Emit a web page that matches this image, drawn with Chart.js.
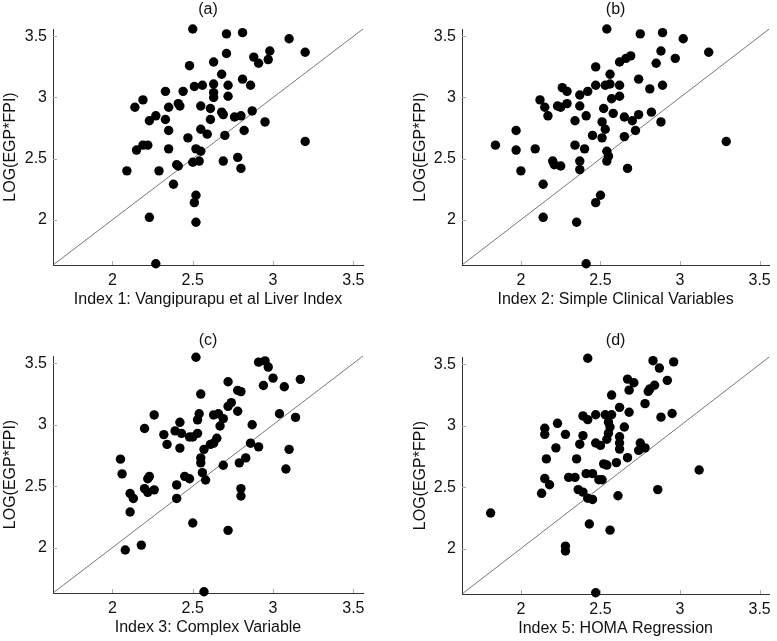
<!DOCTYPE html>
<html>
<head>
<meta charset="utf-8">
<script src="https://cdn.jsdelivr.net/npm/chart.js@4/dist/chart.umd.min.js"></script>
<style>
  html, body { margin: 0; padding: 0; background: #fff; }
  body { width: 777px; height: 641px; position: relative; overflow: hidden; }
  .pane { position: absolute; }
</style>
</head>
<body>
<div class="pane" id="pa" style="left:0px;top:0px;width:390px;height:320px;"><canvas id="ca"></canvas></div>
<div class="pane" id="pb" style="left:390px;top:0px;width:387px;height:320px;"><canvas id="cb"></canvas></div>
<div class="pane" id="pc" style="left:0px;top:320px;width:390px;height:321px;"><canvas id="cc"></canvas></div>
<div class="pane" id="pd" style="left:390px;top:320px;width:387px;height:321px;"><canvas id="cd"></canvas></div>
<script>
// ---- data ----
const axisMin = 1.63;
const axisMax = 3.56;
const tickValues = [2, 2.5, 3, 3.5];
const yTitle = "LOG(EGP*FPI)";
const panelTitles = ["(a)", "(b)", "(c)", "(d)"];
const xTitles = [
  "Index 1: Vangipurapu et al Liver Index",
  "Index 2: Simple Clinical Variables",
  "Index 3: Complex Variable",
  "Index 5: HOMA Regression"
];

const aX = [2.50,2.71,2.81,3.10,2.98,3.20,2.71,2.88,2.91,2.97,2.63,2.48,2.68,2.81,2.86,2.51,2.56,2.63,2.72,2.63,2.63,2.72,2.33,2.44,2.19,2.14,2.35,2.41,2.42,2.55,2.61,2.68,2.69,2.76,2.80,2.87,2.27,2.23,2.33,2.61,2.95,2.35,2.55,2.59,2.82,2.47,2.70,3.20,2.19,2.22,2.15,2.35,2.52,2.55,2.50,2.54,2.40,2.41,2.69,2.78,2.80,2.09,2.29,2.38,2.52,2.51,2.23,2.52,2.27];
const aY = [3.56,3.52,3.53,3.48,3.38,3.37,3.36,3.33,3.28,3.31,3.29,3.26,3.19,3.15,3.10,3.09,3.10,3.11,3.10,3.04,3.00,3.01,3.05,3.05,2.98,2.92,2.92,2.95,2.93,2.93,2.91,2.88,2.86,2.84,2.85,2.89,2.85,2.81,2.82,2.82,2.80,2.73,2.74,2.70,2.73,2.67,2.69,2.64,2.61,2.61,2.57,2.58,2.58,2.56,2.47,2.48,2.45,2.44,2.48,2.51,2.42,2.40,2.40,2.29,2.20,2.14,2.02,1.98,1.64];

const bX = [2.54,2.75,2.89,3.02,2.88,3.18,2.97,2.85,2.69,2.66,2.62,2.47,2.56,2.74,2.53,2.56,2.62,2.47,2.89,2.81,2.26,2.29,2.42,2.37,2.62,2.57,2.12,2.15,2.23,2.25,2.29,2.37,2.52,2.17,2.41,2.58,2.65,2.70,2.74,2.82,2.88,2.34,2.51,2.53,2.72,2.45,2.51,2.65,1.97,1.84,1.97,2.09,2.34,2.40,2.54,2.55,2.54,2.20,2.21,2.25,2.37,2.37,2.67,2.00,3.29,2.14,2.50,2.47,2.14,2.35,2.41];
const bY = [3.56,3.52,3.53,3.48,3.38,3.37,3.32,3.28,3.34,3.32,3.29,3.25,3.19,3.15,3.10,3.11,3.10,3.10,3.10,3.07,3.08,3.05,3.05,3.02,3.01,2.99,2.98,2.92,2.93,2.92,2.95,2.93,2.91,2.85,2.85,2.87,2.84,2.81,2.86,2.88,2.80,2.81,2.80,2.74,2.73,2.69,2.67,2.68,2.73,2.61,2.57,2.58,2.61,2.58,2.56,2.52,2.48,2.48,2.45,2.44,2.48,2.41,2.42,2.40,2.64,2.29,2.20,2.14,2.02,1.98,1.64];

const cX = [2.52,2.91,2.95,2.97,3.00,3.17,2.94,3.07,2.72,2.78,2.80,2.55,2.74,2.72,2.78,2.26,2.54,2.53,2.63,2.66,2.69,2.67,3.04,3.14,2.87,2.20,2.42,2.39,2.43,2.32,2.34,2.48,2.50,2.53,2.65,2.63,2.61,2.57,2.42,2.86,2.91,2.55,2.55,2.83,2.79,2.69,3.10,3.08,2.05,2.06,2.23,2.22,2.56,2.58,2.45,2.48,2.40,2.40,2.20,2.22,2.26,2.11,2.13,2.80,2.80,2.11,2.50,2.72,2.18,2.08,2.57];
const cY = [3.55,3.51,3.52,3.47,3.38,3.37,3.32,3.31,3.35,3.28,3.27,3.25,3.18,3.15,3.11,3.08,3.09,3.04,3.08,3.09,3.05,2.99,3.09,3.06,3.00,2.97,3.02,2.95,2.93,2.92,2.84,2.90,2.90,2.93,2.89,2.85,2.84,2.80,2.81,2.85,2.82,2.73,2.69,2.73,2.69,2.67,2.80,2.64,2.72,2.60,2.58,2.56,2.61,2.55,2.58,2.56,2.51,2.40,2.48,2.45,2.47,2.44,2.40,2.48,2.42,2.29,2.20,2.14,2.02,1.98,1.64];

const dX = [2.42,2.83,2.87,2.96,2.67,2.71,2.92,2.84,2.81,2.80,2.68,2.57,2.78,2.62,2.68,2.95,2.88,2.39,2.42,2.47,2.53,2.57,2.55,2.56,2.65,2.23,2.15,2.15,2.28,2.39,2.55,2.54,2.62,2.47,2.37,2.50,2.62,2.62,2.75,2.76,2.78,2.74,2.22,2.16,2.35,2.67,2.52,2.54,2.60,2.30,2.34,2.41,2.45,2.49,2.51,2.15,2.18,2.13,2.36,2.39,2.42,2.45,2.61,2.86,3.12,1.81,2.43,2.56,2.28,2.28,2.47];
const dY = [3.55,3.53,3.47,3.52,3.38,3.35,3.37,3.33,3.30,3.28,3.29,3.25,3.18,3.15,3.11,3.10,3.07,3.08,3.05,3.09,3.09,3.09,3.03,2.99,2.99,3.02,2.98,2.93,2.93,2.92,2.94,2.89,2.91,2.86,2.85,2.84,2.86,2.81,2.86,2.82,2.82,2.80,2.82,2.73,2.73,2.74,2.69,2.68,2.70,2.58,2.58,2.61,2.61,2.56,2.56,2.57,2.52,2.45,2.48,2.46,2.41,2.40,2.43,2.48,2.64,2.29,2.20,2.15,2.02,1.98,1.64];

// ---- drawing ----
const FONT = "'Liberation Sans', Arial, Helvetica, sans-serif";
const TXT = '#111';

const innerTicks = {
  id: 'innerTicks',
  afterDraw(chart) {
    const ctx = chart.ctx;
    const a = chart.chartArea;
    ctx.save();
    ctx.strokeStyle = '#aaa';
    ctx.lineWidth = 1;
    ctx.beginPath();
    chart.scales.x.ticks.forEach(t => {
      const px = Math.round(chart.scales.x.getPixelForValue(t.value)) + 0.5;
      ctx.moveTo(px, a.bottom); ctx.lineTo(px, a.bottom - 4);
    });
    chart.scales.y.ticks.forEach(t => {
      const py = Math.round(chart.scales.y.getPixelForValue(t.value)) + 0.5;
      ctx.moveTo(a.left, py); ctx.lineTo(a.left + 4, py);
    });
    ctx.stroke();
    ctx.restore();
  }
};

function makePanel(canvasId, xs, ys, idx, geo) {
  const pts = xs.map((x, i) => ({ x: x, y: ys[i] }));
  const diag = [{ x: axisMin, y: axisMin }, { x: axisMax, y: axisMax }];
  const setTicks = s => { s.ticks = tickValues.map(v => ({ value: v })); };
  new Chart(document.getElementById(canvasId), {
    type: 'scatter',
    data: {
      datasets: [
        { data: pts, backgroundColor: '#000', borderWidth: 0, pointRadius: 4.7, pointHoverRadius: 4.7, clip: false },
        { type: 'line', data: diag, borderColor: '#555', borderWidth: 0.8, pointRadius: 0, fill: false, clip: false }
      ]
    },
    options: {
      responsive: true,
      maintainAspectRatio: false,
      animation: false,
      events: [],
      layout: { padding: { left: geo.padL, right: geo.padR, top: 0, bottom: geo.padB } },
      plugins: {
        legend: { display: false },
        tooltip: { enabled: false },
        title: {
          display: true, text: panelTitles[idx], fullSize: false, color: TXT,
          font: { family: FONT, size: 16, weight: 'normal', lineHeight: 1.2 },
          padding: { top: geo.tTop, bottom: geo.tBot }
        }
      },
      scales: {
        x: {
          type: 'linear', min: axisMin, max: axisMax,
          afterBuildTicks: setTicks,
          afterFit: s => { s.height = 44; },
          grid: { display: true, drawOnChartArea: false, drawTicks: false },
          border: { display: true, color: '#333', width: 1 },
          ticks: { color: TXT, padding: 6, font: { family: FONT, size: 16 }, callback: v => String(v) },
          title: { display: true, text: xTitles[idx], color: TXT, padding: { top: 0, bottom: 0 },
                   font: { family: FONT, size: 16, lineHeight: 1.2 } }
        },
        y: {
          type: 'linear', min: axisMin, max: axisMax,
          afterBuildTicks: setTicks,
          afterFit: s => { s.width = geo.yW; },
          grid: { display: true, drawOnChartArea: false, drawTicks: false },
          border: { display: true, color: '#333', width: 1 },
          ticks: { color: TXT, padding: 6, font: { family: FONT, size: 16 }, callback: v => String(v) },
          title: { display: true, text: yTitle, color: TXT, padding: { top: 1.4, bottom: 0 },
                   font: { family: FONT, size: 16, lineHeight: 1.2 } }
        }
      }
    },
    plugins: [innerTicks]
  });
}

makePanel('ca', aX, aY, 0, { padL: 0,  yW: 53, padR: 27, padB: 11, tTop: 0,    tBot: 9.8 });
makePanel('cb', bX, bY, 1, { padL: 20, yW: 52, padR: 7,  padB: 11, tTop: 0,    tBot: 9.8 });
makePanel('cc', cX, cY, 2, { padL: 0,  yW: 53, padR: 27, padB: 4,  tTop: 11.4, tBot: 5.4 });
makePanel('cd', dX, dY, 3, { padL: 20, yW: 52, padR: 7,  padB: 3,  tTop: 11.4, tBot: 6.4 });
</script>
</body>
</html>
